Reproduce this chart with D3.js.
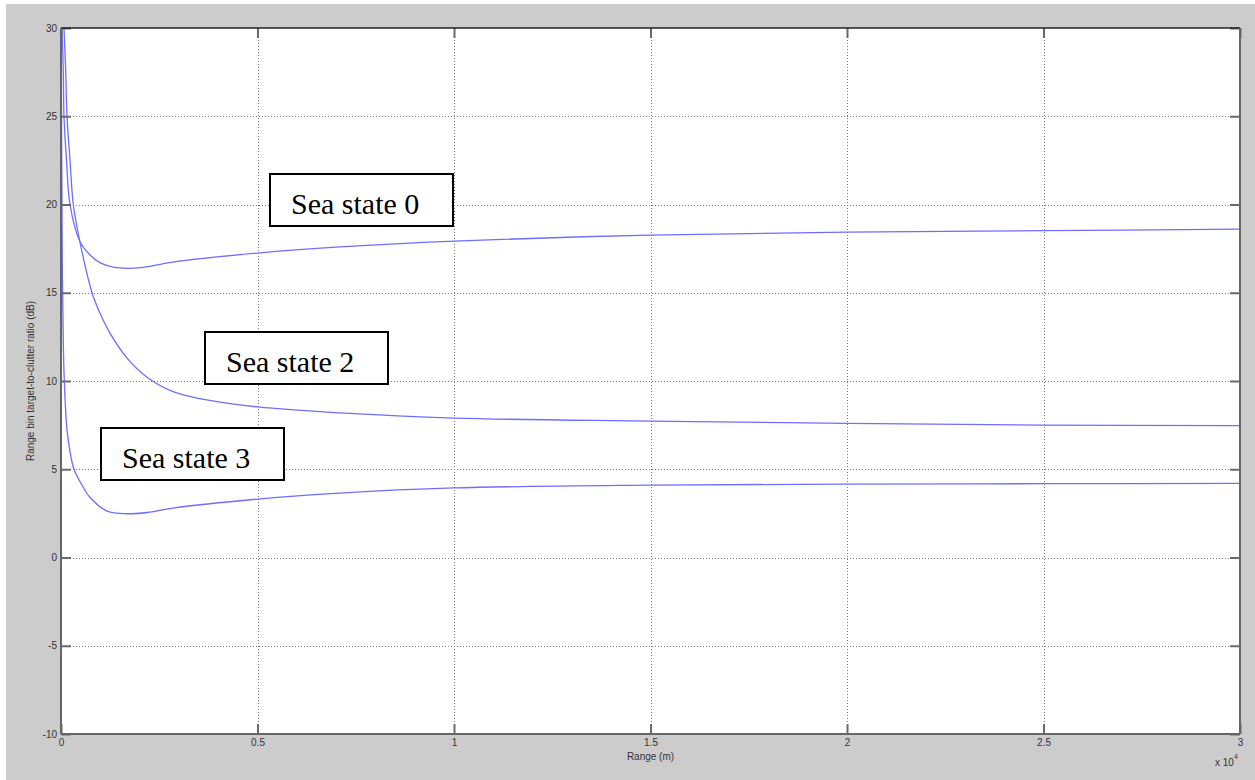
<!DOCTYPE html>
<html>
<head>
<meta charset="utf-8">
<script src="https://cdn.jsdelivr.net/npm/d3@7"></script>
<style>
  html, body { margin: 0; padding: 0; background: #ffffff; }
  svg { display: block; }
</style>
</head>
<body>
<svg id="chart" width="1255" height="780"></svg>
<script>
// ---------------- data ----------------
const rangeSS0 = [25, 59, 76, 140, 229, 480, 740, 1000, 1330, 1700, 2030, 2850, 5000, 7100, 10000, 15000, 20000, 25000, 30000];
const valueSS0 = [30, 27.5, 25, 22.5, 20, 17.9, 17.14, 16.69, 16.45, 16.38, 16.42, 16.74, 17.25, 17.6, 17.93, 18.27, 18.44, 18.52, 18.6];

const rangeSS2 = [76, 120, 153, 230, 313, 480, 790, 990, 1250, 1680, 2200, 2850, 3710, 5010, 7100, 10000, 15000, 20000, 25000, 30000];
const valueSS2 = [30, 27.5, 25, 22.5, 20, 17.9, 15, 13.85, 12.7, 11.3, 10.2, 9.4, 8.93, 8.53, 8.19, 7.9, 7.73, 7.6, 7.5, 7.47];

const rangeSS3 = [0, 15, 35, 60, 84, 150, 230, 330, 560, 740, 1170, 1420, 1800, 2200, 2850, 5010, 7100, 10000, 15000, 20000, 25000, 30000];
const valueSS3 = [36, 24, 16, 12, 10, 7.3, 6, 5, 4.0, 3.4, 2.63, 2.52, 2.48, 2.55, 2.8, 3.31, 3.65, 3.94, 4.1, 4.16, 4.18, 4.2];

const xTicks = [0, 5000, 10000, 15000, 20000, 25000, 30000];
const xTickLabels = ["0", "0.5", "1", "1.5", "2", "2.5", "3"];
const yTicks = [-10, -5, 0, 5, 10, 15, 20, 25, 30];
const yTickLabels = ["-10", "-5", "0", "5", "10", "15", "20", "25", "30"];

const labelTexts = ["Sea state 0", "Sea state 2", "Sea state 3"];
const labelRange = [7646, 6005, 3346];   // box centre, data units
const labelValue = [20.25, 11.33, 5.86];

const xTitle = "Range (m)";
const yTitle = "Range bin target-to-clutter ratio (dB)";

// ---------------- layout ----------------
const svg = d3.select("#chart");
const W = 1255, H = 780;
const plot = { left: 61, right: 1240, top: 28, bottom: 734 };

svg.append("rect").attr("x", 6).attr("y", 4).attr("width", W - 6).attr("height", H - 4).attr("fill", "#cccccc");

const x = d3.scaleLinear().domain([0, 30000]).range([plot.left, plot.right]);
const y = d3.scaleLinear().domain([-10, 30]).range([plot.bottom, plot.top]);

svg.append("rect")
  .attr("x", plot.left).attr("y", plot.top)
  .attr("width", plot.right - plot.left).attr("height", plot.bottom - plot.top)
  .attr("fill", "#ffffff");

// grid
const grid = svg.append("g").attr("stroke", "#7a7a7a").attr("stroke-width", 1).attr("stroke-dasharray", "1,2");
grid.selectAll("line.gx").data(xTicks.slice(1, -1)).join("line")
  .attr("x1", d => Math.round(x(d)) + 0.5).attr("x2", d => Math.round(x(d)) + 0.5)
  .attr("y1", plot.top).attr("y2", plot.bottom);
grid.selectAll("line.gy").data(yTicks.slice(1, -1)).join("line")
  .attr("y1", d => Math.round(y(d)) + 0.5).attr("y2", d => Math.round(y(d)) + 0.5)
  .attr("x1", plot.left).attr("x2", plot.right);

// curves
svg.append("clipPath").attr("id", "clip").append("rect")
  .attr("x", plot.left).attr("y", plot.top)
  .attr("width", plot.right - plot.left).attr("height", plot.bottom - plot.top);

const line = d3.line().x(d => x(d[0])).y(d => y(d[1])).curve(d3.curveCatmullRom.alpha(0.5));
const series = [
  d3.zip(rangeSS0, valueSS0),
  d3.zip(rangeSS2, valueSS2),
  d3.zip(rangeSS3, valueSS3)
];
svg.append("g").attr("clip-path", "url(#clip)")
  .selectAll("path").data(series).join("path")
  .attr("d", line)
  .attr("fill", "none")
  .attr("stroke", "#6e6eff")
  .attr("stroke-width", 1.3);

// axes via d3 axis (inward ticks)
const tickStyle = g => {
  g.select(".domain").remove();
  g.selectAll(".tick line").attr("stroke", "#6a6a6a").attr("stroke-width", 2);
  g.selectAll(".tick text").attr("fill", "#333333").attr("font-family", "Liberation Sans, Arial, sans-serif").attr("font-size", 10);
};

svg.append("g").attr("transform", `translate(0,${plot.bottom})`)
  .call(d3.axisBottom(x).tickValues(xTicks).tickFormat((d, i) => xTickLabels[i]).tickSizeInner(-10).tickPadding(5))
  .call(tickStyle);
svg.append("g").attr("transform", `translate(0,${plot.top})`)
  .call(d3.axisTop(x).tickValues(xTicks).tickFormat("").tickSizeInner(-10))
  .call(tickStyle);
svg.append("g").attr("transform", `translate(${plot.left},0)`)
  .call(d3.axisLeft(y).tickValues(yTicks).tickFormat((d, i) => yTickLabels[i]).tickSizeInner(-10).tickPadding(4))
  .call(tickStyle);
svg.append("g").attr("transform", `translate(${plot.right},0)`)
  .call(d3.axisRight(y).tickValues(yTicks).tickFormat("").tickSizeInner(-10))
  .call(tickStyle);

// box
svg.append("line").attr("x1", plot.left).attr("x2", plot.right).attr("y1", plot.top).attr("y2", plot.top).attr("stroke", "#222").attr("stroke-width", 1.5);
svg.append("line").attr("x1", plot.right).attr("x2", plot.right).attr("y1", plot.top).attr("y2", plot.bottom).attr("stroke", "#666").attr("stroke-width", 2);
svg.append("line").attr("x1", plot.left).attr("x2", plot.right).attr("y1", plot.bottom).attr("y2", plot.bottom).attr("stroke", "#666").attr("stroke-width", 2);
svg.append("line").attr("x1", plot.left).attr("x2", plot.left).attr("y1", plot.top).attr("y2", plot.bottom).attr("stroke", "#666").attr("stroke-width", 2);

// axis titles
svg.append("text").attr("x", x(15000)).attr("y", 760).attr("text-anchor", "middle")
  .attr("font-family", "Liberation Sans, Arial, sans-serif").attr("font-size", 10).attr("fill", "#333")
  .text(xTitle);
svg.append("text").attr("transform", `translate(34,${(plot.top + plot.bottom) / 2}) rotate(-90)`).attr("text-anchor", "middle")
  .attr("font-family", "Liberation Sans, Arial, sans-serif").attr("font-size", 10).attr("fill", "#333")
  .text(yTitle);
const mult = svg.append("text").attr("x", 1215).attr("y", 766)
  .attr("font-family", "Liberation Sans, Arial, sans-serif").attr("font-size", 10).attr("fill", "#333");
mult.append("tspan").text("x 10");
mult.append("tspan").attr("dy", -7).attr("font-size", 7).text("4");

// annotations
const boxW = 183, boxH = 52;
const ann = svg.append("g").selectAll("g").data(labelTexts).join("g")
  .attr("transform", (d, i) => `translate(${Math.round(x(labelRange[i]) - boxW / 2)},${Math.round(y(labelValue[i]) - boxH / 2)})`);
ann.append("rect").attr("width", boxW).attr("height", boxH)
  .attr("fill", "#ffffff").attr("stroke", "#000").attr("stroke-width", 2);
ann.append("text").attr("x", 21).attr("y", 40)
  .attr("font-family", "Liberation Serif, 'Times New Roman', serif").attr("font-size", 30).attr("fill", "#000")
  .text(d => d);
</script>
</body>
</html>
